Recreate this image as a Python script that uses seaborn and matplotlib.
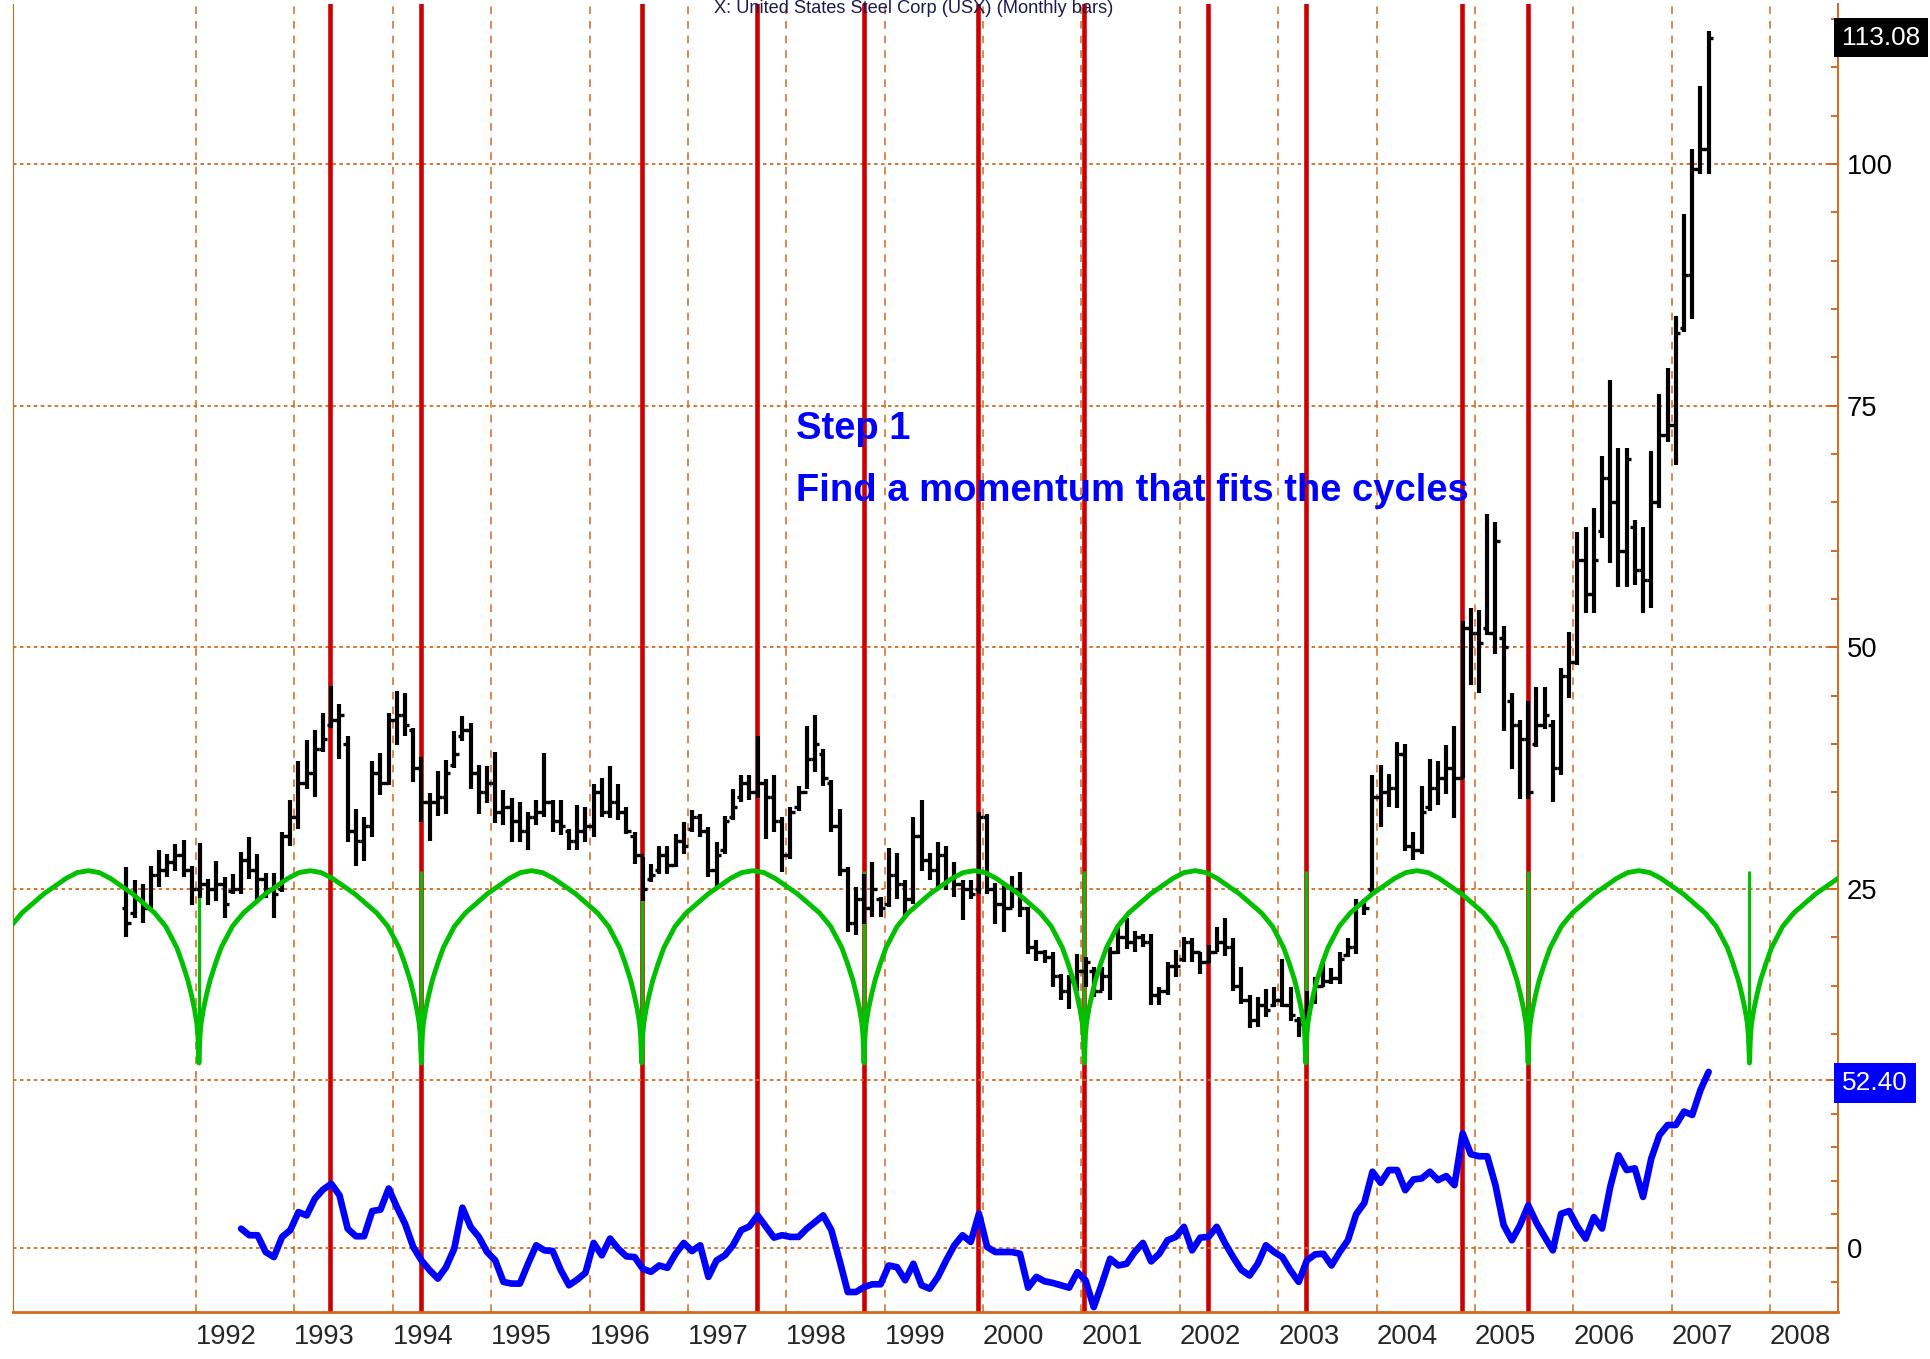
import matplotlib
matplotlib.use("Agg")
import matplotlib.pyplot as plt
from matplotlib import font_manager
import numpy as np
import pandas as pd
import seaborn as sns

# monthly bars, Apr 1991 .. May 2007
HIGHS = [27.3, 25.9, 25.5, 27.4, 29.0, 28.6, 29.7, 30.1, 27.4, 29.8,
         26.0, 27.95, 26.2, 26.6, 28.8, 30.4, 28.6, 26.7, 26.7, 30.9,
         34.2, 38.2, 40.45, 41.5, 43.2, 46.0, 44.1, 40.8, 33.3, 32.5,
         38.2, 39.1, 43.2, 45.5, 45.3, 41.7, 38.7, 34.9, 37.2, 38.4,
         41.3, 42.9, 42.2, 37.8, 37.7, 39.2, 35.2, 34.4, 34.0, 33.0,
         34.2, 39.1, 34.2, 34.2, 31.25, 33.7, 33.5, 35.9, 36.5, 37.7,
         35.9, 33.5, 30.9, 28.3, 27.6, 29.5, 29.5, 30.7, 31.9, 33.2,
         32.8, 31.4, 29.9, 32.6, 35.4, 36.8, 36.8, 40.8, 36.4, 36.8,
         32.45, 33.5, 35.7, 41.9, 42.97, 39.5, 36.25, 33.3, 27.3, 25.2,
         26.6, 27.8, 24.2, 29.2, 28.7, 25.9, 32.45, 34.2, 28.7, 29.9,
         29.5, 27.8, 25.9, 25.9, 33.0, 32.8, 25.6, 25.6, 26.4, 26.8,
         23.1, 19.7, 18.7, 18.5, 16.2, 16.1, 18.3, 18.0, 16.9, 16.9,
         19.0, 21.1, 22.0, 20.7, 20.4, 20.4, 14.9, 17.45, 18.7, 20.0,
         19.9, 18.5, 19.2, 21.1, 22.0, 19.9, 16.9, 14.0, 13.8, 14.7,
         14.9, 17.8, 14.9, 11.8, 14.5, 15.9, 17.8, 16.8, 18.5, 19.9,
         24.0, 24.0, 36.8, 37.8, 36.9, 40.2, 40.0, 30.9, 35.7, 38.5,
         38.2, 39.9, 41.9, 52.7, 54.1, 53.9, 63.8, 63.0, 52.2, 45.3,
         42.5, 44.5, 45.9, 45.9, 42.5, 47.9, 51.6, 61.9, 62.4, 64.4,
         69.8, 77.7, 70.6, 70.6, 63.2, 62.4, 70.3, 76.25, 78.9, 84.3,
         94.8, 101.6, 108.1, 113.8]
LOWS = [20.0, 22.0, 21.5, 22.7, 25.2, 26.2, 26.9, 26.2, 23.3, 24.1,
        23.4, 23.8, 22.0, 24.5, 24.5, 26.0, 23.8, 24.1, 22.0, 24.7,
        29.5, 31.25, 35.4, 34.5, 39.2, 41.7, 38.5, 29.9, 27.4, 27.95,
        30.4, 34.7, 35.8, 39.9, 40.8, 36.1, 31.9, 30.0, 32.6, 32.8,
        37.5, 40.3, 35.4, 32.8, 33.9, 31.8, 31.6, 29.9, 29.9, 29.0,
        31.6, 32.5, 30.9, 30.6, 29.0, 29.0, 29.9, 30.4, 32.5, 32.3,
        32.1, 30.7, 27.6, 23.8, 25.7, 26.6, 26.6, 27.3, 28.6, 30.9,
        30.4, 26.2, 25.0, 28.6, 32.1, 34.0, 34.2, 34.4, 30.2, 30.9,
        26.8, 28.1, 33.1, 35.4, 37.1, 35.7, 30.9, 26.4, 20.6, 20.2,
        21.4, 22.1, 22.1, 23.1, 24.0, 22.1, 23.5, 26.9, 25.9, 25.2,
        24.9, 24.2, 21.8, 24.0, 24.5, 24.5, 21.4, 20.6, 23.0, 22.1,
        18.3, 17.6, 17.3, 14.9, 13.5, 12.6, 14.5, 14.9, 13.8, 14.5,
        13.5, 18.3, 18.85, 18.5, 19.0, 13.0, 13.0, 14.0, 15.9, 17.45,
        17.45, 16.25, 17.3, 18.5, 18.1, 14.5, 13.1, 10.6, 10.7, 11.8,
        12.8, 12.8, 11.4, 9.7, 9.5, 13.1, 14.9, 15.2, 15.2, 18.0,
        18.3, 22.3, 24.5, 31.4, 33.5, 33.4, 28.9, 28.0, 28.6, 33.1,
        33.7, 34.8, 32.3, 36.5, 46.1, 45.3, 51.3, 49.3, 41.4, 37.4,
        34.3, 34.3, 39.7, 41.6, 34.0, 36.8, 44.8, 48.2, 53.6, 53.6,
        61.3, 58.7, 56.2, 56.2, 56.4, 53.6, 54.1, 64.4, 71.2, 68.9,
        82.6, 84.0, 99.0, 99.0]
OPENS = [23.0, 22.5, 24.0, 23.0, 26.5, 27.0, 27.8, 28.5, 27.0, 25.0,
         25.5, 25.0, 25.5, 24.8, 25.0, 28.0, 27.0, 26.0, 25.0, 25.0,
         30.5, 32.5, 36.0, 37.0, 39.5, 42.0, 42.5, 40.0, 31.0, 30.0,
         31.5, 37.0, 36.0, 42.5, 43.0, 41.5, 37.5, 34.0, 34.0, 34.5,
         37.8, 40.8, 41.5, 37.0, 35.0, 36.0, 33.0, 33.5, 32.0, 31.0,
         32.5, 33.0, 34.0, 32.0, 31.0, 30.0, 31.0, 31.5, 35.0, 33.0,
         34.0, 33.0, 30.5, 28.5, 26.0, 27.0, 28.5, 27.5, 30.0, 31.2,
         32.5, 31.0, 27.0, 29.0, 32.5, 34.5, 36.0, 35.0, 36.0, 34.5,
         32.0, 28.5, 33.5, 35.0, 38.5, 39.0, 36.0, 31.5, 27.0, 21.5,
         24.0, 23.0, 24.0, 23.5, 26.5, 25.5, 24.0, 30.5, 28.0, 27.0,
         28.5, 26.0, 25.5, 25.0, 25.0, 32.5, 25.0, 23.5, 23.0, 25.0,
         23.0, 19.0, 18.5, 18.0, 16.0, 14.5, 15.5, 16.5, 16.5, 14.5,
         16.0, 18.5, 20.0, 19.5, 20.0, 19.5, 14.0, 14.5, 17.0, 17.8,
         19.5, 18.5, 17.5, 18.5, 19.5, 19.0, 15.0, 13.5, 11.5, 13.0,
         13.0, 13.5, 13.0, 11.5, 11.0, 13.5, 15.0, 15.5, 15.8, 18.2,
         19.0, 23.5, 25.0, 34.5, 35.0, 35.5, 39.0, 29.5, 29.0, 33.5,
         35.5, 36.5, 37.5, 36.5, 52.0, 51.5, 52.0, 51.5, 51.0, 44.5,
         42.0, 40.5, 40.0, 42.0, 42.0, 37.5, 47.0, 48.5, 59.0, 55.5,
         62.0, 67.5, 65.0, 60.0, 62.5, 58.0, 57.0, 65.0, 72.0, 73.0,
         83.0, 88.5, 99.5, 101.5]
CLOSES = [21.5, 24.0, 23.0, 26.5, 27.0, 27.8, 28.5, 27.0, 25.0, 25.5,
          25.0, 25.5, 23.5, 25.0, 28.0, 27.0, 26.0, 25.0, 24.5, 30.5,
          32.5, 36.0, 37.0, 39.5, 40.5, 42.5, 43.0, 31.0, 30.0, 31.5,
          37.0, 36.0, 42.5, 43.0, 42.0, 37.5, 34.0, 34.0, 34.5, 37.0,
          39.0, 41.5, 37.0, 35.0, 36.0, 33.0, 33.5, 32.0, 31.0, 32.5,
          33.0, 34.0, 32.0, 31.5, 30.0, 31.0, 31.5, 35.0, 33.0, 34.0,
          33.0, 31.0, 28.5, 25.0, 26.5, 28.5, 27.5, 30.0, 29.5, 32.5,
          31.0, 27.0, 28.5, 32.0, 33.5, 36.0, 35.0, 36.0, 34.5, 32.0,
          28.5, 33.0, 35.0, 38.5, 40.0, 36.5, 31.5, 27.0, 21.5, 24.0,
          23.0, 25.0, 23.0, 26.5, 25.5, 24.0, 30.5, 28.0, 27.0, 28.5,
          26.0, 25.5, 25.0, 24.5, 32.5, 25.0, 23.5, 23.0, 25.0, 23.0,
          19.0, 18.5, 18.0, 16.0, 14.5, 15.5, 16.5, 17.5, 14.5, 16.0,
          18.5, 20.0, 19.5, 20.0, 19.5, 14.0, 14.5, 17.0, 17.0, 19.5,
          18.5, 17.5, 18.5, 19.5, 19.0, 15.0, 13.5, 11.5, 13.0, 12.5,
          13.5, 13.0, 12.0, 11.0, 12.5, 15.0, 15.5, 15.8, 17.8, 19.0,
          23.5, 23.0, 34.5, 35.0, 35.5, 39.0, 29.5, 29.0, 33.0, 35.5,
          36.5, 37.5, 36.5, 52.0, 51.5, 50.5, 51.5, 61.0, 50.0, 42.0,
          40.5, 35.0, 42.0, 43.0, 37.5, 47.0, 48.5, 59.0, 55.5, 59.0,
          67.5, 65.0, 60.0, 69.5, 58.0, 57.0, 65.0, 72.0, 73.0, 82.5,
          88.5, 99.5, 101.5, 113.08]

# momentum line, Jun 1992 .. May 2007
MOMENTUM = [5.75, 3.8, 3.8, -1.2, -2.7, 3.3, 5.3, 10.7, 9.7, 14.7,
            17.4, 19.1, 15.7, 5.75, 3.5, 3.5, 11.0, 11.4, 17.7, 12.2,
            7.2, 0.3, -3.7, -6.6, -9.1, -5.7, -0.2, 12.0, 6.25, 3.3,
            -1.2, -3.7, -10.1, -10.6, -10.6, -4.7, 0.8, -0.7, -0.9, -6.6,
            -11.1, -9.4, -7.4, 1.5, -2.2, 2.8, -0.2, -2.5, -2.7, -6.2,
            -7.1, -5.2, -5.9, -1.7, 1.5, -0.9, 0.8, -8.6, -3.7, -2.2,
            0.8, 5.3, 6.4, 9.7, 6.4, 3.1, 3.8, 3.3, 3.3, 5.75,
            7.7, 9.7, 5.3, -3.7, -13.1, -13.1, -11.6, -10.8, -10.8, -5.2,
            -5.7, -9.6, -4.7, -11.1, -12.1, -8.6, -3.7, 0.8,
            3.8, 1.8, 10.2, 0.3, -1.2, -1.2, -1.2, -1.7, -11.8, -8.6,
            -9.9, -10.4, -11.1, -11.8, -7.2, -9.6, -17.6, -10.6, -3.2, -5.2,
            -4.7, -1.2, 1.5, -4.0, -1.7, 2.3, 3.3, 6.3, -0.7, 3.1,
            3.3, 6.3, 1.5, -2.7, -6.5, -8.2, -4.7, 0.8, -1.2, -2.7,
            -6.7, -10.1, -3.7, -1.9, -1.7, -5.2, -1.2, 2.3, 10.0, 13.4,
            22.7, 19.4, 23.2, 23.2, 17.2, 20.4, 20.7, 22.7, 20.2, 21.4,
            18.7, 34.1, 27.9, 27.3, 27.3, 18.7, 6.8, 2.3, 6.8, 12.7,
            7.5, 3.3, -0.7, 10.2, 11.0, 6.3, 2.8, 9.2, 5.8, 18.2,
            27.6, 23.2, 23.7, 15.2, 26.6, 33.6, 36.6, 36.6, 40.6, 39.6,
            47.0, 52.4]

# idealised cycle: lows, level and the half-arc profile
CYCLE_LOWS = [1989.78, 1992.03, 1994.29, 1996.53, 1998.79, 2001.03,
              2003.28, 2005.54, 2007.79, 2010.04]
CYCLE_BOTTOM, CYCLE_TOP = 7.0, 26.9
ARC_U = [0, 0.01, 0.02, 0.04, 0.07, 0.10, 0.15, 0.20, 0.30, 0.40,
         0.50, 0.60, 0.70, 0.80, 0.90, 1.0]
ARC_H = [0, 0.15, 0.21, 0.28, 0.36, 0.43, 0.52, 0.60, 0.71, 0.78,
         0.83, 0.88, 0.92, 0.96, 0.99, 1.0]

RED_LINES = [1993.36, 1994.29, 1996.53, 1997.70, 1998.79, 1999.95,
             2001.03, 2002.29, 2003.28, 2004.87, 2005.54]
YEARS = list(range(1992, 2009))
PRICE_LEVELS = [25, 50, 75, 100]
MOM_LEVELS = [0, 50]

GRID = "#D2691E"
sns.set_style("white")
plt.rcParams["lines.scale_dashes"] = False
names = {f.name for f in font_manager.fontManager.ttflist}
if "Liberation Sans Narrow" in names:
    FONT, K = "Liberation Sans Narrow", 1.0
else:
    FONT, K = "Liberation Sans", 0.82
plt.rcParams["font.family"] = [FONT, "DejaVu Sans"]

W, H = 1931, 1359
fig = plt.figure(figsize=(W / 100, H / 100), dpi=100)
ax = fig.add_axes([13 / W, 1 - 1312 / H, (1838 - 13) / W, (1312 - 4) / H])
ax.set_xlim(1990.14, 2008.69)
ax.set_ylim(-18.75, 116.55)

# grid
for y in YEARS:
    ax.axvline(y, color=GRID, lw=1.1, ls=(0, (5.5, 5)), zorder=1)
for p in PRICE_LEVELS:
    ax.axhline(p, color=GRID, lw=1.3, ls=(0, (2.5, 2.5)), zorder=1)

for t in RED_LINES:
    ax.axvline(t, color="#CC0000", lw=3.3, zorder=2)

# cycle curve
gx, gy = [], []
for a, b in zip(CYCLE_LOWS[:-1], CYCLE_LOWS[1:]):
    half = (b - a) / 2
    for u, h in zip(ARC_U, ARC_H):
        gx.append(a + u * half)
        gy.append(CYCLE_BOTTOM + h * (CYCLE_TOP - CYCLE_BOTTOM))
    for u, h in zip(ARC_U[::-1][1:], ARC_H[::-1][1:]):
        gx.append(b - u * half)
        gy.append(CYCLE_BOTTOM + h * (CYCLE_TOP - CYCLE_BOTTOM))
ax.vlines(CYCLE_LOWS, CYCLE_BOTTOM, CYCLE_TOP, color="#00C000", lw=2.2, zorder=2.5)

# price bars
months = pd.period_range("1991-04", periods=len(HIGHS), freq="M")
bx = np.array(months.year + (months.month - 0.5) / 12)
tick = 0.045
ax.vlines(bx, LOWS, HIGHS, color="black", lw=3.0, zorder=3)
ax.hlines(OPENS, bx - tick, bx, color="black", lw=2.4, zorder=3)
ax.hlines(CLOSES, bx, bx + tick, color="black", lw=2.4, zorder=3)

sns.lineplot(x=gx, y=gy, ax=ax, color="#00C000", lw=3.5, sort=False,
             estimator=None, zorder=4)

# momentum on its own scale
ax2 = ax.twinx()
ax2.set_ylim(-19.05, 370.24)
for m in MOM_LEVELS:
    ax2.axhline(m, color=GRID, lw=1.3, ls=(0, (2.5, 2.5)), zorder=1)
mmonths = pd.period_range("1992-06", periods=len(MOMENTUM), freq="M")
mx = np.array(mmonths.year + (mmonths.month - 0.5) / 12)
sns.lineplot(x=mx, y=MOMENTUM, ax=ax2, color="#0000FF", lw=4.8, zorder=5)

# axes styling
for a in (ax, ax2):
    for s in a.spines.values():
        s.set_visible(False)
ax.spines["left"].set_visible(True)
ax.spines["left"].set_color(GRID)
ax.spines["left"].set_linewidth(0.8)
ax.spines["bottom"].set_visible(True)
ax.spines["bottom"].set_color(GRID)
ax.spines["bottom"].set_linewidth(2.0)
ax.spines["right"].set_visible(True)
ax.spines["right"].set_color(GRID)
ax.spines["right"].set_linewidth(1.4)

ax.set_xticks(YEARS)
ax.set_xticklabels([str(y) for y in YEARS], fontsize=24 * K, ha="left")
ax.tick_params(axis="x", length=0, pad=9)

ax.yaxis.tick_right()
ax.set_yticks(PRICE_LEVELS)
ax.set_yticklabels([str(p) for p in PRICE_LEVELS], fontsize=24 * K)
ax.set_yticks(np.arange(10, 116, 5), minor=True)
ax.tick_params(axis="y", which="both", direction="in", color=GRID, width=1.4,
               labelcolor="black", pad=6.5)
ax.tick_params(axis="y", which="major", length=7)
ax.tick_params(axis="y", which="minor", length=5)

ax2.set_yticks(MOM_LEVELS)
ax2.set_yticklabels(["0", ""], fontsize=24 * K)
ax2.set_yticks(np.arange(-10, 51, 10), minor=True)
ax2.tick_params(axis="y", which="both", direction="in", color=GRID, width=1.4,
                labelcolor="black", pad=6.5)
ax2.tick_params(axis="y", which="major", length=7)
ax2.tick_params(axis="y", which="minor", length=5)
ax.set_xlabel("")
ax.set_ylabel("")
ax2.set_ylabel("")

# last value boxes
ax.annotate(f"{CLOSES[-1]:.2f}", xy=(1.0, CLOSES[-1]), xycoords=("axes fraction", "data"),
            xytext=(3, 0), textcoords="offset points", ha="left", va="center",
            color="white", fontsize=23 * K,
            bbox=dict(boxstyle="square,pad=0.3", fc="black", ec="none"), annotation_clip=False)
ax2.annotate(f"{MOMENTUM[-1]:.2f}", xy=(1.0, MOMENTUM[-1]), xycoords=("axes fraction", "data"),
             xytext=(3, -8), textcoords="offset points", ha="left", va="center",
             color="white", fontsize=23 * K,
             bbox=dict(boxstyle="square,pad=0.3", fc="#0000FF", ec="none"), annotation_clip=False)

ax.text(1998.10, 74.4, "Step 1\nFind a momentum that fits the cycles",
        color="#0000FF", fontsize=33.5 * K, fontweight="bold", va="top", ha="left",
        linespacing=1.9, zorder=6)

fig.text(914 / W, 1.0, "X: United States Steel Corp (USX) (Monthly bars)",
         ha="center", va="top", fontsize=16 * K, color="#1A1A50")

fig.savefig("out.png", dpi=100, facecolor="white")
